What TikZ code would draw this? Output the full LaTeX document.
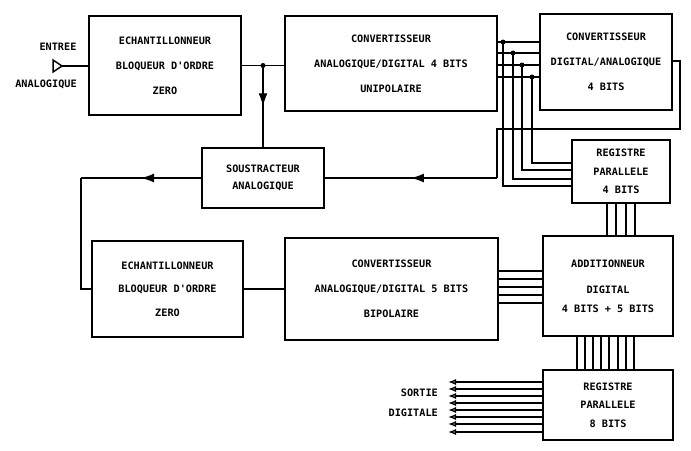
\documentclass[tikz,border=0pt]{standalone}
\usepackage{fontspec}
\newfontfamily\mono{DejaVu Sans Mono}
\usetikzlibrary{arrows.meta,decorations.markings}
\tikzset{
  box/.style={draw, line width=1.8pt, inner sep=0pt, align=center},
  bigtxt/.style={font=\mono\bfseries\fontsize{10.2}{25}\selectfont},
  smalltxt/.style={font=\mono\bfseries\fontsize{10.2}{18.5}\selectfont},
  lbl/.style={font=\mono\bfseries\fontsize{10.2}{12}\selectfont, inner sep=0pt},
  wire/.style={line width=1.3pt},
  midarrow/.style={wire, postaction={decorate}, decoration={markings,
     mark=at position 0.5 with {\arrow{Latex[length=13pt,width=9pt]}}}},
  outarrow/.style={wire, -{Latex[open,length=8pt,width=6pt]}},
  dot/.style={circle, fill, inner sep=0pt, minimum size=5pt}
}
\begin{document}
\begin{tikzpicture}[x=1pt,y=-1pt]
\useasboundingbox (0,0) rectangle (691,450);
% blocks
\node[box,bigtxt,minimum width=152pt,minimum height=99pt] (b1) at (165,65.5) {ECHANTILLONNEUR\\BLOQUEUR D'ORDRE\\ZERO};
\node[box,bigtxt,minimum width=212pt,minimum height=95pt] (b2) at (391,63.5) {CONVERTISSEUR\\ANALOGIQUE/DIGITAL 4 BITS\\UNIPOLAIRE};
\node[box,bigtxt,minimum width=132pt,minimum height=96pt] (b3) at (606,62) {CONVERTISSEUR\\DIGITAL/ANALOGIQUE\\4 BITS};
\node[box,smalltxt,minimum width=98pt,minimum height=63pt] (r4) at (621,171.5) {REGISTRE\\PARALLELE\\4 BITS};
\node[box,font=\mono\bfseries\fontsize{10.2}{17}\selectfont,minimum width=122pt,minimum height=60pt] (sub) at (263,178) {SOUSTRACTEUR\\ANALOGIQUE};
\node[box,font=\mono\bfseries\fontsize{10.2}{23.5}\selectfont,minimum width=151pt,minimum height=96pt] (b4) at (167.5,289) {ECHANTILLONNEUR\\BLOQUEUR D'ORDRE\\ZERO};
\node[box,bigtxt,minimum width=213pt,minimum height=102pt] (b5) at (391.5,289) {CONVERTISSEUR\\ANALOGIQUE/DIGITAL 5 BITS\\BIPOLAIRE};
\node[box,font=\mono\bfseries\fontsize{10.2}{19}\selectfont,minimum width=130pt,minimum height=100pt] (add) at (608,286) {ADDITIONNEUR\\[7pt]DIGITAL\\4 BITS + 5 BITS};
\node[box,smalltxt,minimum width=130pt,minimum height=70pt] (r8) at (608,405) {REGISTRE\\PARALLELE\\8 BITS};
% input
\node[lbl] (tin1) at (58,47) {ENTREE};
\node[lbl] (tin2) at (46,84) {ANALOGIQUE};
\coordinate (in) at (62,66);
\draw[wire, line width=1.5pt, line join=miter] ([shift={(-9,-6)}]in) -- (in) -- ([shift={(-9,6)}]in) -- cycle;
\draw[wire] (in) -- (b1.west |- in);
% b1 -> b2, branch to subtractor
\draw[wire] (b1.east) -- (b2.west |- b1.east);
\coordinate (j0) at (sub.north |- b1.east);
\node[dot] at (j0) {};
\draw[midarrow] (j0) -- (sub.north);
% 4-bit bus
\foreach \y/\x/\d in {42/503/186, 53/513/179, 65/522/170, 77/532/163}{
  \draw[wire] (b2.east |- 0,\y) -- (b3.west |- 0,\y);
  \node[dot] at (\x,\y) {};
  \draw[wire] (\x,\y) -- (\x,\d) -- (r4.west |- 0,\d);
}
% reg4 -> adder
\foreach \x in {607,616,626,635}{
  \draw[wire] (r4.south -| \x,0) -- (add.north -| \x,0);
}
% DAC feedback to subtractor
\coordinate (fb) at (497,178);
\draw[wire] (b3.east |- 0,61) -- (680,61) -- (680,129) -- (497,129) -- (fb);
\draw[midarrow] (fb) -- (sub.east |- fb);
% subtractor -> second sample-hold
\coordinate (lc) at (81,178);
\draw[midarrow] (sub.west) -- (lc);
\draw[wire] (lc) -- (81,289) -- (b4.west);
% b4 -> b5
\draw[wire] (b4.east) -- (b5.west);
% 5-bit bus
\foreach \y in {271,279,287,295,303}{
  \draw[wire] (b5.east |- 0,\y) -- (add.west |- 0,\y);
}
% adder -> reg8
\foreach \x in {577,585,593,601,609,618,626,634}{
  \draw[wire] (add.south -| \x,0) -- (r8.north -| \x,0);
}
% outputs
\foreach \y in {382,389,396,403,410,417,424,432}{
  \draw[outarrow] (r8.west |- 0,\y) -- (448,\y);
}
\node[lbl, anchor=east] (to1) at (438,393) {SORTIE};
\node[lbl, anchor=east] (to2) at (438,413) {DIGITALE};
\end{tikzpicture}
\end{document}
